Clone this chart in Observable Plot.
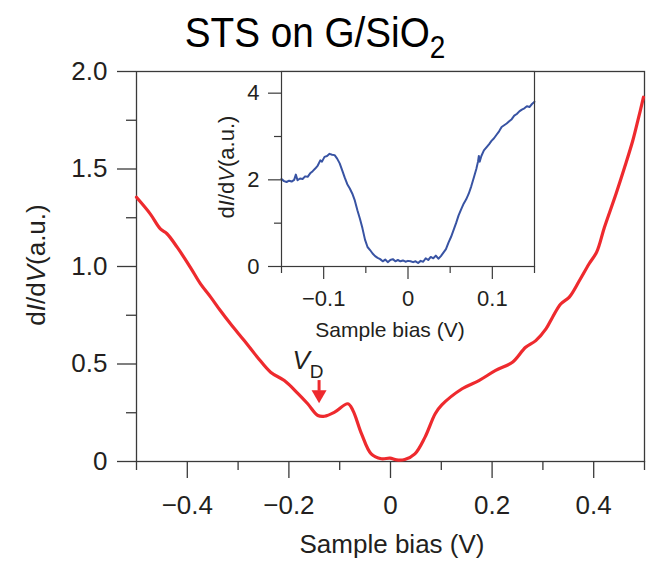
<!DOCTYPE html>
<html>
<head>
<meta charset="utf-8">
<script src="https://cdn.jsdelivr.net/npm/d3@7"></script>
<script src="https://cdn.jsdelivr.net/npm/@observablehq/plot@0.6"></script>
<style>
  body { margin: 0; background: white; }
  #wrap { position: relative; width: 646px; height: 562px; overflow: hidden; }
  #wrap svg { position: absolute; }
</style>
</head>
<body>
<div id="wrap"></div>
<script>
// ---- main spectrum (red): sample bias (V) and dI/dV (a.u.)
const redBias = [-0.5, -0.473, -0.453, -0.44, -0.42, -0.394, -0.374, -0.354, -0.335, -0.315,
  -0.288, -0.262, -0.236, -0.209, -0.183, -0.163, -0.143, -0.13, -0.11, -0.084,
  -0.074, -0.057, -0.038, -0.018, -0.001, 0.012, 0.028, 0.048, 0.068, 0.088,
  0.101, 0.141, 0.174, 0.207, 0.24, 0.266, 0.286, 0.306, 0.319, 0.335,
  0.352, 0.372, 0.391, 0.406, 0.421, 0.444, 0.461, 0.477, 0.487, 0.498];
const redDIdV = [1.355, 1.27, 1.193, 1.168, 1.099, 0.996, 0.911, 0.843, 0.774, 0.706,
  0.62, 0.535, 0.458, 0.415, 0.351, 0.296, 0.236, 0.232, 0.253, 0.296,
  0.262, 0.142, 0.039, 0.014, 0.017, 0.008, 0.010, 0.039, 0.125, 0.245,
  0.29, 0.373, 0.415, 0.467, 0.509, 0.586, 0.62, 0.68, 0.74, 0.808,
  0.843, 0.928, 1.014, 1.075, 1.2, 1.373, 1.51, 1.646, 1.749, 1.868];

// ---- inset spectrum (blue)
const blueBias = [-0.150, -0.147, -0.144, -0.141, -0.138, -0.135, -0.133, -0.131, -0.128, -0.125,
  -0.122, -0.119, -0.116, -0.113, -0.110, -0.107, -0.104, -0.102, -0.099, -0.096,
  -0.093, -0.090, -0.087, -0.084, -0.081, -0.078, -0.075, -0.072, -0.069, -0.066,
  -0.063, -0.060, -0.057, -0.054, -0.051, -0.048, -0.045, -0.042, -0.039, -0.036,
  -0.033, -0.030, -0.027, -0.024, -0.021, -0.018, -0.015, -0.012, -0.009, -0.006,
  -0.003, 0.000, 0.003, 0.006, 0.009, 0.012, 0.015, 0.018, 0.021, 0.024,
  0.027, 0.030, 0.033, 0.036, 0.039, 0.042, 0.045, 0.048, 0.051, 0.054,
  0.057, 0.060, 0.063, 0.066, 0.069, 0.072, 0.075, 0.078, 0.081, 0.083,
  0.084, 0.085, 0.087, 0.090, 0.093, 0.096, 0.099, 0.102, 0.105, 0.108,
  0.111, 0.114, 0.117, 0.120, 0.123, 0.126, 0.129, 0.132, 0.135, 0.138,
  0.141, 0.144, 0.147, 0.150];
const blueDIdV = [2.02, 1.97, 1.95, 1.98, 1.96, 2.00, 2.12, 1.99, 2.03, 2.02,
  2.08, 2.07, 2.15, 2.20, 2.26, 2.33, 2.45, 2.42, 2.53, 2.55,
  2.60, 2.58, 2.57, 2.49, 2.38, 2.22, 2.05, 1.90, 1.80, 1.68,
  1.52, 1.30, 1.10, 0.88, 0.62, 0.45, 0.38, 0.30, 0.24, 0.20,
  0.17, 0.12, 0.16, 0.10, 0.15, 0.17, 0.12, 0.15, 0.12, 0.14,
  0.11, 0.13, 0.12, 0.10, 0.12, 0.08, 0.13, 0.11, 0.19, 0.15,
  0.22, 0.19, 0.25, 0.18, 0.24, 0.32, 0.40, 0.55, 0.68, 0.84,
  1.00, 1.18, 1.32, 1.45, 1.55, 1.68, 1.85, 2.05, 2.25, 2.42,
  2.55, 2.42, 2.55, 2.68, 2.75, 2.82, 2.90, 2.96, 3.04, 3.12,
  3.22, 3.26, 3.30, 3.35, 3.40, 3.48, 3.52, 3.58, 3.62, 3.65,
  3.70, 3.68, 3.75, 3.80];

// ---- ticks
const mainXTicks = [-0.4, -0.2, 0, 0.2, 0.4];
const mainXMinor = [-0.5, -0.3, -0.1, 0.1, 0.3, 0.5];
const mainYTicks = [0, 0.5, 1, 1.5, 2];
const mainYMinor = [0.25, 0.75, 1.25, 1.75];
const insetXTicks = [-0.1, 0, 0.1];
const insetXMinor = [-0.15, -0.05, 0.05, 0.15];
const insetYTicks = [0, 2, 4];
const insetYMinor = [1, 3];

// ---- Dirac point marker (V_D)
const diracBias = [-0.1406];
const diracArrowTop = [0.415];
const diracArrowBase = [0.36];
const diracArrowTip = [0.303];

const red = "#ee2a2e";
const blue = "#3853a3";
const ink = "#231f20";
const axisInk = "#3a3a3a";
const font = "'Liberation Sans', Arial, Helvetica, sans-serif";

const redData = redBias.map((x, i) => ({x, y: redDIdV[i]}));
const blueData = blueBias.map((x, i) => ({x, y: blueDIdV[i]}));
const dirac = diracBias.map((x, i) => ({x, top: diracArrowTop[i], base: diracArrowBase[i], tip: diracArrowTip[i]}));

const fmt = d => d === 0 ? "0" : (d < 0 ? "\u2212" : "") + Math.abs(d).toFixed(1);
const fmtY = d => d === 0 ? "0" : d.toFixed(1);

const downTriangle = {
  draw(ctx) {
    ctx.moveTo(-7.5, -6.5);
    ctx.lineTo(7.5, -6.5);
    ctx.lineTo(0, 6.5);
    ctx.closePath();
  }
};

const main = Plot.plot({
  width: 646, height: 562,
  marginLeft: 136, marginRight: 2, marginTop: 71, marginBottom: 101,
  x: {domain: [-0.5, 0.5]},
  y: {domain: [0, 2]},
  style: {fontFamily: font, color: ink, background: "transparent", left: "0px", top: "0px", overflow: "visible"},
  marks: [
    Plot.frame({stroke: axisInk, strokeWidth: 1.3}),
    Plot.axisY({ticks: mainYTicks, tickSize: 19, tickPadding: 10, tickFormat: fmtY, label: null, fontSize: 26, stroke: axisInk, strokeWidth: 1.3}),
    Plot.axisY({ticks: mainYMinor, tickSize: 10, tickFormat: () => "", label: null, stroke: axisInk, strokeWidth: 1.3}),
    Plot.axisX({ticks: mainXTicks, tickSize: 17, tickPadding: 17, tickFormat: fmt, label: null, fontSize: 26, stroke: axisInk, strokeWidth: 1.3}),
    Plot.axisX({ticks: mainXMinor, tickSize: 9, tickFormat: () => "", label: null, stroke: axisInk, strokeWidth: 1.3}),
    Plot.line(redData, {x: "x", y: "y", stroke: red, strokeWidth: 3.2, curve: "catmull-rom"}),
    Plot.ruleX(dirac, {x: "x", y1: "top", y2: "base", stroke: red, strokeWidth: 3}),
    Plot.dot(dirac, {x: "x", y: d => (d.base + d.tip) / 2, symbol: downTriangle, fill: red, stroke: "none"})
  ]
});

const inset = Plot.plot({
  width: 380, height: 300,
  marginLeft: 101, marginRight: 26, marginTop: 11, marginBottom: 94,
  x: {domain: [-0.15, 0.15]},
  y: {domain: [0, 4.5]},
  style: {fontFamily: font, color: ink, background: "transparent", left: "180px", top: "60px", overflow: "visible"},
  marks: [
    Plot.frame({fill: "white", stroke: "none"}),
    Plot.axisY({ticks: insetYTicks, tickSize: 13, tickPadding: 9, tickFormat: d => String(d), label: null, fontSize: 22, stroke: axisInk, strokeWidth: 1.2}),
    Plot.axisY({ticks: insetYMinor, tickSize: 7, tickFormat: () => "", label: null, stroke: axisInk, strokeWidth: 1.2}),
    Plot.axisX({ticks: insetXTicks, tickSize: 13, tickPadding: 11, tickFormat: fmt, label: null, fontSize: 22, stroke: axisInk, strokeWidth: 1.2}),
    Plot.axisX({ticks: insetXMinor, tickSize: 7, tickFormat: () => "", label: null, stroke: axisInk, strokeWidth: 1.2}),
    Plot.line(blueData, {x: "x", y: "y", stroke: blue, strokeWidth: 2}),
    Plot.frame({stroke: axisInk, strokeWidth: 1.2})
  ]
});

const wrap = document.getElementById("wrap");
wrap.appendChild(main);
wrap.appendChild(inset);

// ---- rich text labels (italics / subscripts)
const svg = d3.select(main);
const g = svg.append("g").attr("fill", ink).attr("font-family", font);

// title
const title = g.append("text")
  .attr("transform", "translate(315,47) scale(0.9,1)")
  .attr("text-anchor", "middle")
  .attr("font-size", 43)
  .attr("fill", "#000");
title.append("tspan").text("STS on G/SiO");
title.append("tspan").attr("font-size", 31).attr("dy", 11).text("2");

function dIdV(sel, size) {
  sel.attr("font-size", size).attr("text-anchor", "middle");
  sel.append("tspan").text("d");
  sel.append("tspan").attr("font-style", "italic").text("I");
  sel.append("tspan").text("/d");
  sel.append("tspan").attr("font-style", "italic").text("V");
  sel.append("tspan").text("(a.u.)");
}
dIdV(g.append("text").attr("transform", "translate(45,265) rotate(-90)"), 26);
dIdV(g.append("text").attr("transform", "translate(234,167) rotate(-90)"), 22);

g.append("text").attr("x", 392).attr("y", 553).attr("text-anchor", "middle")
  .attr("font-size", 26).text("Sample bias (V)");
g.append("text").attr("x", 390).attr("y", 337).attr("text-anchor", "middle")
  .attr("font-size", 21).text("Sample bias (V)");

const vd = g.append("text").attr("x", 308).attr("y", 369).attr("font-size", 26);
vd.append("tspan").attr("font-style", "italic").text("V");
vd.append("tspan").attr("font-size", 19).attr("dy", 9).text("D");
</script>
</body>
</html>
